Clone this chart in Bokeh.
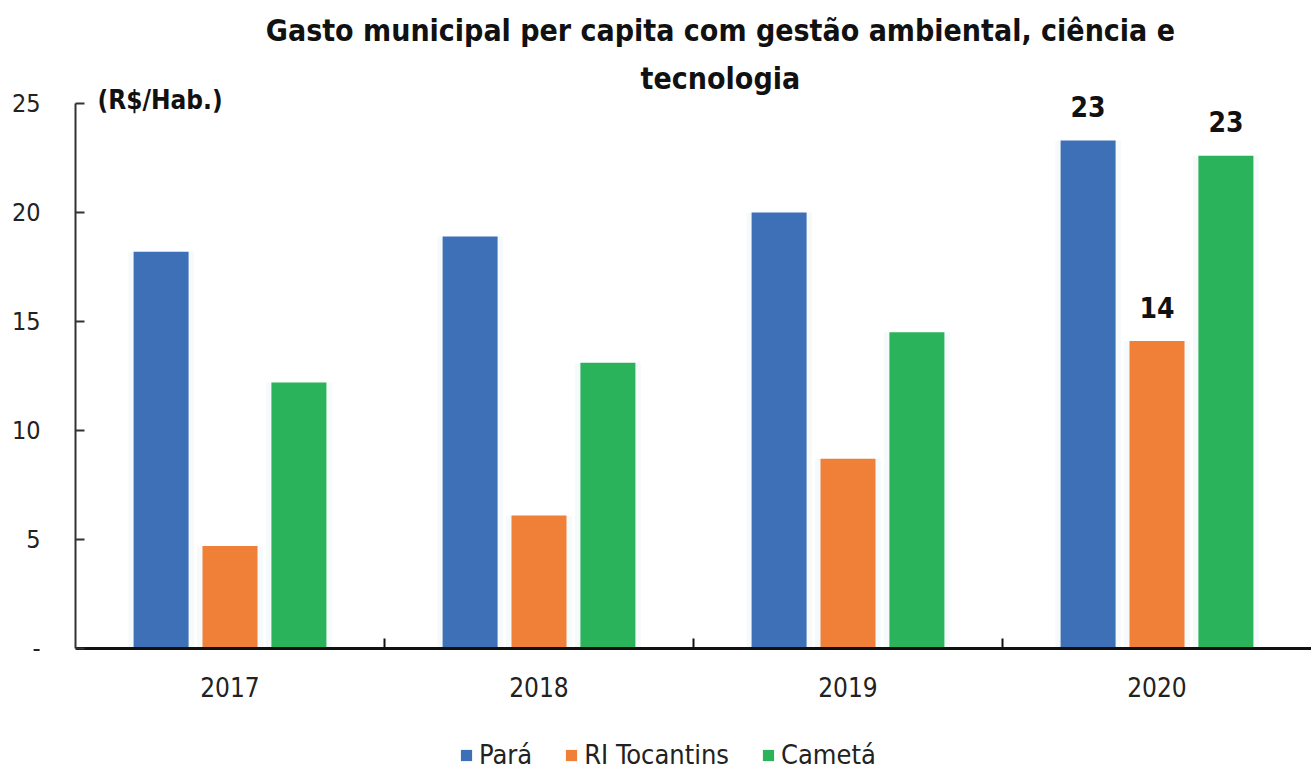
from bokeh.plotting import figure
from bokeh.models import Range1d, FixedTicker, ColumnDataSource, Label, Legend, LegendItem
from bokeh.core.properties import value
from bokeh.embed import file_html
from bokeh.resources import INLINE

years = ["2017", "2018", "2019", "2020"]
series = ["Pará", "RI Tocantins", "Cametá"]
para = [18.2, 18.9, 20.0, 23.3]
ri_tocantins = [4.7, 6.1, 8.7, 14.1]
cameta = [12.2, 13.1, 14.5, 22.6]
colors = ["#3E70B8", "#F07F37", "#2BB35B"]
labels_2020 = ["23", "14", "23"]
title_lines = ["Gasto municipal per capita com gestão ambiental, ciência e", "tecnologia"]
unit_label = "(R$/Hab.)"

FONT = "'DejaVu Sans Condensed', 'Liberation Sans', sans-serif"

p = figure(frame_width=1236, frame_height=770, output_backend="svg", toolbar_location=None,
           x_range=Range1d(0, len(years)), y_range=Range1d(-5.60, 29.72),
           min_border_left=75, min_border_right=0, min_border_top=0, min_border_bottom=0)
p.outline_line_color = None
p.xgrid.visible = False
p.ygrid.visible = False

offsets = [-0.223, 0.0, 0.223]
bw = 0.178
all_vals = [para, ri_tocantins, cameta]
renderers = []
for k, (vals, col) in enumerate(zip(all_vals, colors)):
    xs = [i + 0.5 + offsets[k] for i in range(len(years))]
    src = ColumnDataSource(dict(x=xs, top=vals))
    p.vbar(x="x", top="top", width=bw + 0.035, bottom=0, source=src,
           fill_color="#f2f6f9", fill_alpha=0.6, line_color=None)
    r = p.vbar(x="x", top="top", width=bw, bottom=0, source=src,
               fill_color=col, line_color=None)
    renderers.append(r)

# data labels for 2020
lx = [len(years) - 0.5 + o for o in offsets]
ly = [v[-1] for v in all_vals]
lsrc = ColumnDataSource(dict(x=lx, y=ly, t=labels_2020))
p.text(x="x", y="y", text="t", source=lsrc, y_offset=-34,
       text_align="center", text_baseline="middle",
       text_font=value(FONT), text_font_size="28px", text_font_style="bold", text_color="#111111")

# x axis
xa = p.xaxis[0]
xa.fixed_location = 0
xa.ticker = FixedTicker(ticks=[i + 0.5 for i in range(len(years))],
                        minor_ticks=[i for i in range(1, len(years))])
xa.major_label_overrides = {i + 0.5: y for i, y in enumerate(years)}
xa.axis_line_width = 3
xa.axis_line_color = "#111111"
xa.major_tick_in = 0
xa.major_tick_out = 0
xa.minor_tick_in = 10
xa.minor_tick_out = 0
xa.minor_tick_line_width = 2
xa.minor_tick_line_color = "#111111"
xa.major_label_standoff = 29
xa.major_label_text_font = FONT
xa.major_label_text_font_size = "26px"
xa.major_label_text_color = "#222222"

# y axis
ya = p.yaxis[0]
ya.bounds = (0, 25)
ya.ticker = FixedTicker(ticks=[0, 5, 10, 15, 20, 25], minor_ticks=[])
ya.major_label_overrides = {0: "-"}
ya.axis_line_width = 2
ya.axis_line_color = "#333333"
ya.major_tick_in = 9
ya.major_tick_out = 0
ya.major_tick_line_width = 2
ya.major_tick_line_color = "#333333"
ya.major_label_standoff = 35
ya.major_label_text_font = FONT
ya.major_label_text_font_size = "25px"
ya.major_label_text_color = "#222222"

# title lines and unit
p.add_layout(Label(x=2.087, y=28.35, text=title_lines[0], text_align="center", text_baseline="middle",
                   text_font=FONT, text_font_size="30px", text_font_style="bold", text_color="#111111"))
p.add_layout(Label(x=2.087, y=26.15, text=title_lines[1], text_align="center", text_baseline="middle",
                   text_font=FONT, text_font_size="30px", text_font_style="bold", text_color="#111111"))
p.add_layout(Label(x=0.071, y=25.14, text=unit_label, text_align="left", text_baseline="middle",
                   text_font=FONT, text_font_size="26px", text_font_style="bold", text_color="#111111"))

legend = Legend(items=[LegendItem(label=s, renderers=[r]) for s, r in zip(series, renderers)],
                orientation="horizontal", location=(384, 0),
                label_text_font=FONT, label_text_font_size="27px", label_text_color="#222222",
                glyph_width=14, glyph_height=14, spacing=32, label_standoff=6,
                border_line_color=None, background_fill_alpha=0, margin=0, padding=0)
p.add_layout(legend, "center")

open("out.html", "w").write(file_html(p, INLINE))
